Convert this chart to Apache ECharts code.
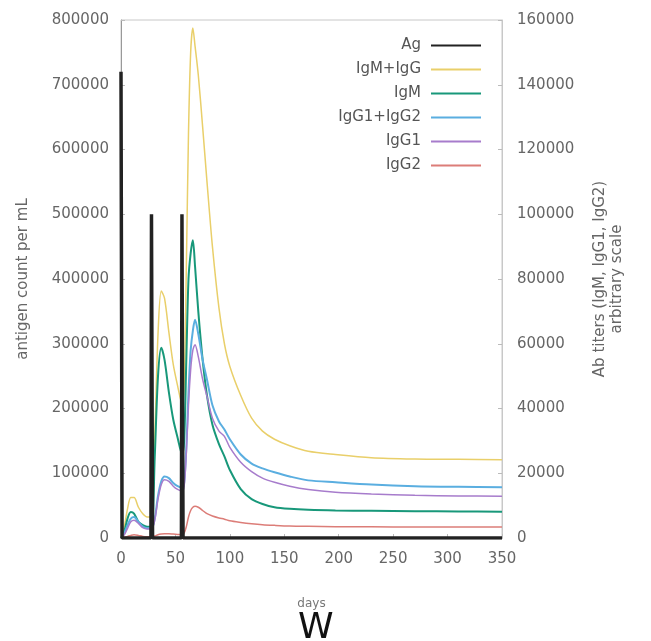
<!DOCTYPE html>
<html>
<head>
<meta charset="utf-8">
<script src="https://cdn.jsdelivr.net/npm/echarts@6/dist/echarts.min.js"></script>
<style>
  html, body { margin: 0; padding: 0; background: #fff; }
  #main { width: 651px; height: 641px; }
</style>
</head>
<body>
<div id="main"></div>
<script>
// antigen (left axis), days and counts
var agDays = [0, 1, 27.5, 28, 29, 55.5, 56, 57, 350];
var agVals = [720000, 0, 0, 500000, 0, 0, 500000, 0, 0];

// antibody titers (right axis), sampled days
var days = [0, 3, 6, 9, 12, 16, 20, 24, 28, 31, 34, 37, 40, 44, 48, 52, 56, 58, 60, 62, 64, 66, 68, 71, 75, 79, 84, 90, 95, 100, 110, 120, 130, 141, 155, 172, 197, 230, 270, 310, 350];
var igmIgg = [0, 3500, 9000, 12500, 12500, 9500, 7500, 6500, 6500, 31000, 63000, 76300, 74000, 63500, 53600, 47000, 41500, 47000, 83000, 125000, 150000, 157500, 152000, 143000, 127000, 110000, 90000, 71000, 60000, 53000, 44000, 37000, 33000, 30500, 28500, 26800, 25800, 24800, 24400, 24300, 24200];
var igm = [0, 2000, 6000, 8000, 7500, 5000, 4000, 3500, 3500, 25000, 50000, 58800, 55000, 45000, 36600, 31000, 26000, 30000, 55000, 80000, 88000, 92000, 84000, 70000, 55000, 44000, 35000, 29000, 25200, 21000, 15100, 12000, 10500, 9500, 9000, 8700, 8500, 8400, 8300, 8200, 8100];
var igg12 = [0, 1500, 4000, 6000, 6500, 5000, 3500, 3000, 3000, 6000, 13000, 17500, 19000, 18500, 17000, 16000, 15500, 17000, 28000, 45000, 58000, 64000, 67400, 63000, 55000, 48900, 41000, 36000, 33500, 30500, 25800, 23000, 21500, 20300, 19000, 17800, 17200, 16500, 16000, 15800, 15700];
var igg1 = [0, 1000, 3000, 5000, 5500, 4500, 3200, 2800, 2800, 5500, 12000, 16500, 18000, 17500, 16000, 15000, 14500, 16000, 26000, 41000, 52000, 58000, 59700, 56000, 49000, 43700, 37000, 33000, 31400, 28000, 23400, 20500, 18500, 17200, 16000, 15000, 14150, 13600, 13200, 13000, 12900];
var igg2 = [0, 200, 500, 800, 1000, 800, 500, 400, 400, 600, 1000, 1200, 1300, 1300, 1200, 1100, 1000, 1500, 3500, 6500, 8500, 9500, 9800, 9500, 8500, 7500, 6800, 6200, 5800, 5300, 4800, 4400, 4100, 3900, 3700, 3600, 3500, 3450, 3400, 3400, 3400];

var names = ['Ag', 'IgM+IgG', 'IgM', 'IgG1+IgG2', 'IgG1', 'IgG2'];

function pairs(xs, ys) {
    return xs.map(function (x, i) { return [x, ys[i]]; });
}
function plain(v) { return String(v); }

var FONT = 'DejaVu Sans';
var myChart = echarts.init(document.getElementById('main'));

function abSeries(name, vals, color, width) {
    return {
        name: name,
        type: 'line',
        yAxisIndex: 1,
        smooth: 0.3,
        symbol: 'none',
        data: pairs(days, vals),
        lineStyle: { color: color, width: width },
        itemStyle: { color: color }
    };
}

var option = {
    backgroundColor: '#fff',
    animation: false,
    textStyle: { fontFamily: FONT },
    grid: {
        left: 121, right: 149, top: 20, bottom: 103,
        show: true, borderColor: '#c8c8c8', borderWidth: 1
    },
    legend: {
        data: names,
        orient: 'vertical',
        right: 164,
        top: 33,
        align: 'right',
        itemWidth: 50,
        itemHeight: 12,
        itemGap: 9,
        itemStyle: { opacity: 0 },
        textStyle: { fontFamily: FONT, fontSize: 15, color: '#555', padding: [0, 5, 0, 0] }
    },
    xAxis: {
        type: 'value',
        min: 0, max: 350, interval: 50,
        name: 'days',
        nameLocation: 'middle',
        nameGap: 60,
        nameTextStyle: { fontSize: 12, color: '#777' },
        axisLine: { lineStyle: { color: '#999' } },
        axisTick: { inside: true, length: 4, lineStyle: { color: '#bbb' } },
        axisLabel: { fontSize: 15, color: '#666', margin: 14, formatter: plain },
        splitLine: { show: false }
    },
    yAxis: [{
        type: 'value',
        position: 'left',
        min: 0, max: 800000, interval: 100000,
        name: 'antigen count per mL',
        nameLocation: 'middle',
        nameGap: 90,
        nameTextStyle: { fontSize: 15, color: '#666' },
        axisLine: { show: true, lineStyle: { color: '#999' } },
        axisTick: { show: true, inside: true, length: 4, lineStyle: { color: '#bbb' } },
        axisLabel: { fontSize: 15, color: '#666', margin: 12, formatter: plain },
        splitLine: { show: false }
    }, {
        type: 'value',
        position: 'right',
        min: 0, max: 160000, interval: 20000,
        name: 'Ab titers (IgM, IgG1, IgG2)\narbitrary scale',
        nameLocation: 'middle',
        nameGap: 90,
        nameTextStyle: { fontSize: 15, color: '#666', lineHeight: 17 },
        axisLine: { show: true, lineStyle: { color: '#c8c8c8' } },
        axisTick: { show: true, inside: true, length: 4, lineStyle: { color: '#bbb' } },
        axisLabel: { fontSize: 15, color: '#666', margin: 15, formatter: plain },
        splitLine: { show: false }
    }],
    graphic: [{
        type: 'text',
        left: 298,
        top: 611,
        style: { text: 'W', fontSize: 36, fontFamily: FONT, fill: '#111' }
    }],
    series: [
        {
            name: 'Ag',
            type: 'line',
            yAxisIndex: 0,
            symbol: 'none',
            z: 5,
            data: pairs(agDays, agVals),
            lineStyle: { color: '#222', width: 3.5 },
            itemStyle: { color: '#222' }
        },
        abSeries('IgM+IgG', igmIgg, '#e9cf6a', 1.5),
        abSeries('IgM', igm, '#18987a', 2),
        abSeries('IgG1+IgG2', igg12, '#5aaee0', 2),
        abSeries('IgG1', igg1, '#a77ccc', 1.5),
        abSeries('IgG2', igg2, '#dc7d78', 1.5)
    ]
};

myChart.setOption(option);
</script>
</body>
</html>
